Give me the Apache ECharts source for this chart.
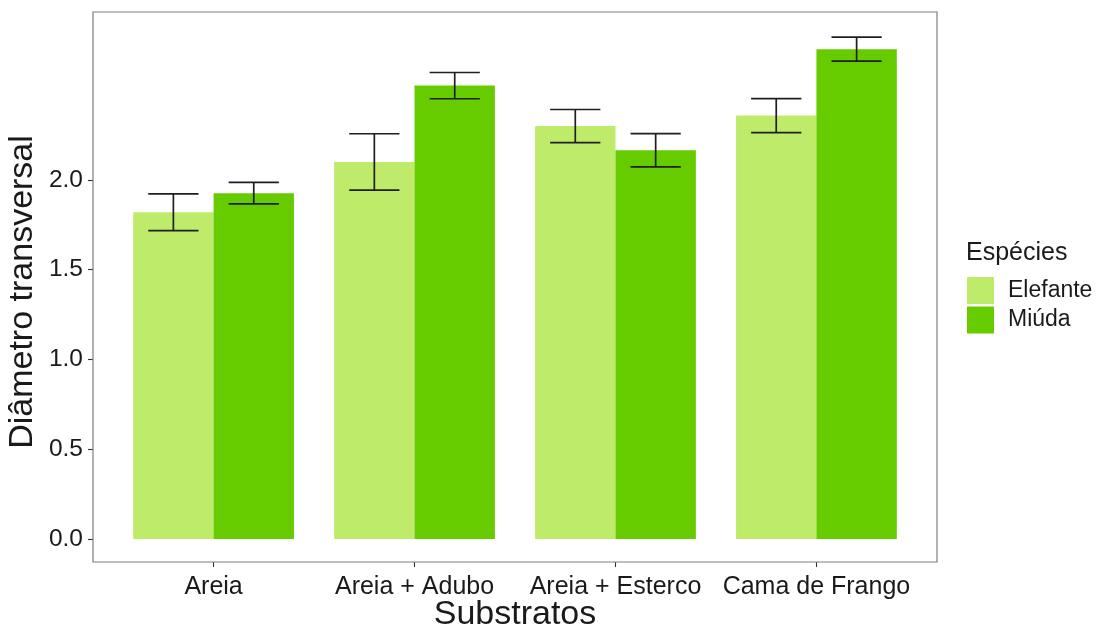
<!DOCTYPE html>
<html>
<head>
<meta charset="utf-8">
<script src="https://cdn.jsdelivr.net/npm/echarts@6/dist/echarts.min.js"></script>
<style>
  html, body { margin: 0; padding: 0; background: #ffffff; }
  #chart { width: 1096px; height: 625px; }
</style>
</head>
<body>
<div id="chart"></div>
<script>
// Substrates on the x axis
const categories = ['Areia', 'Areia + Adubo', 'Areia + Esterco', 'Cama de Frango'];
// Mean transverse diameter per species
const elefante = [1.82, 2.10, 2.30, 2.358];
const miuda = [1.926, 2.525, 2.165, 2.728];
// Half-widths of the error bars
const elefanteErr = [0.102, 0.157, 0.092, 0.095];
const miudaErr = [0.06, 0.073, 0.093, 0.067];
// Labelled y ticks
const yTicks = [0, 0.5, 1.0, 1.5, 2.0];

const FONT = '"Liberation Sans", Arial, sans-serif';
const TEXT = '#1a1a1a';
const C_ELEF = '#bfeb6a';
const C_MIUDA = '#66cc00';

// Panel box (ggplot-style, with extra padding beyond the category bands)
const PANEL = { left: 93, top: 12, right: 937, bottom: 562 };
const bandPx = (PANEL.right - PANEL.left) / 4.2;
const gridLeft = PANEL.left + 0.1 * bandPx;
const gridRight = 1096 - (PANEL.right - 0.1 * bandPx);

function errorData(means, errs) {
  return means.map((m, i) => [i, m - errs[i], m + errs[i]]);
}

function makeErrorRender(side) {
  return function (params, api) {
    const i = api.value(0);
    const lo = api.coord([i, api.value(1)]);
    const hi = api.coord([i, api.value(2)]);
    const band = api.size([1, 0])[0];
    const x = lo[0] + side * band * 0.2;
    const half = band * 0.125;
    const style = { stroke: '#1f1f1f', lineWidth: 1.7, fill: null };
    return {
      type: 'group',
      children: [
        { type: 'line', shape: { x1: x, y1: hi[1], x2: x, y2: lo[1] }, style },
        { type: 'line', shape: { x1: x - half, y1: hi[1], x2: x + half, y2: hi[1] }, style },
        { type: 'line', shape: { x1: x - half, y1: lo[1], x2: x + half, y2: lo[1] }, style }
      ]
    };
  };
}

const chart = echarts.init(document.getElementById('chart'), null, { renderer: 'canvas' });

chart.setOption({
  animation: false,
  backgroundColor: '#ffffff',
  textStyle: { fontFamily: FONT },
  title: {
    text: 'Espécies',
    left: 966,
    top: 241,
    padding: 0,
    textStyle: { fontFamily: FONT, fontSize: 25, fontWeight: 'normal', color: TEXT }
  },
  legend: {
    orient: 'vertical',
    left: 967,
    top: 277,
    padding: 0,
    itemWidth: 27,
    itemHeight: 27,
    itemGap: 2.5,
    icon: 'rect',
    data: ['Elefante', 'Miúda'],
    textStyle: { fontFamily: FONT, fontSize: 23, color: TEXT, padding: [0, 0, 0, 9] }
  },
  grid: {
    left: gridLeft,
    right: gridRight,
    top: PANEL.top,
    bottom: 625 - PANEL.bottom,
    containLabel: false,
    outerBoundsMode: 'none'
  },
  xAxis: {
    type: 'category',
    data: categories,
    name: 'Substratos',
    nameLocation: 'middle',
    nameGap: 36,
    nameMoveOverlap: false,
    nameTextStyle: { fontFamily: FONT, fontSize: 34, color: TEXT },
    axisLine: { show: false, onZero: false },
    axisTick: { show: true, alignWithLabel: true, interval: 0, length: 5, lineStyle: { color: '#333333', width: 1.1 } },
    axisLabel: { fontFamily: FONT, fontSize: 25, color: TEXT, margin: 13, interval: 0, hideOverlap: false },
    splitLine: { show: false }
  },
  yAxis: {
    type: 'value',
    min: -0.128,
    max: 2.935,
    offset: gridLeft - PANEL.left,
    name: 'Diâmetro transversal',
    nameLocation: 'middle',
    nameGap: 53,
    nameRotate: 90,
    nameMoveOverlap: false,
    nameTextStyle: { fontFamily: FONT, fontSize: 34, color: TEXT, padding: [0, 10, 0, 0] },
    axisLine: { show: false },
    axisTick: { show: true, length: 5, customValues: yTicks, lineStyle: { color: '#333333', width: 1.1 } },
    axisLabel: {
      fontFamily: FONT, fontSize: 24.5, color: TEXT, margin: 10,
      customValues: yTicks,
      formatter: v => Number(v).toFixed(1)
    },
    splitLine: { show: false }
  },
  graphic: [{
    type: 'rect',
    z: 100,
    silent: true,
    shape: {
      x: PANEL.left, y: PANEL.top,
      width: PANEL.right - PANEL.left, height: PANEL.bottom - PANEL.top
    },
    style: { fill: null, stroke: '#7f7f7f', lineWidth: 1.2 }
  }],
  series: [
    {
      name: 'Elefante',
      type: 'bar',
      data: elefante,
      barWidth: '40%',
      barGap: '0%',
      itemStyle: { color: C_ELEF }
    },
    {
      name: 'Miúda',
      type: 'bar',
      data: miuda,
      barWidth: '40%',
      barGap: '0%',
      itemStyle: { color: C_MIUDA }
    },
    {
      type: 'custom',
      data: errorData(elefante, elefanteErr),
      renderItem: makeErrorRender(-1),
      encode: { x: 0, y: [1, 2] },
      z: 10,
      silent: true
    },
    {
      type: 'custom',
      data: errorData(miuda, miudaErr),
      renderItem: makeErrorRender(1),
      encode: { x: 0, y: [1, 2] },
      z: 10,
      silent: true
    }
  ]
});
</script>
</body>
</html>
